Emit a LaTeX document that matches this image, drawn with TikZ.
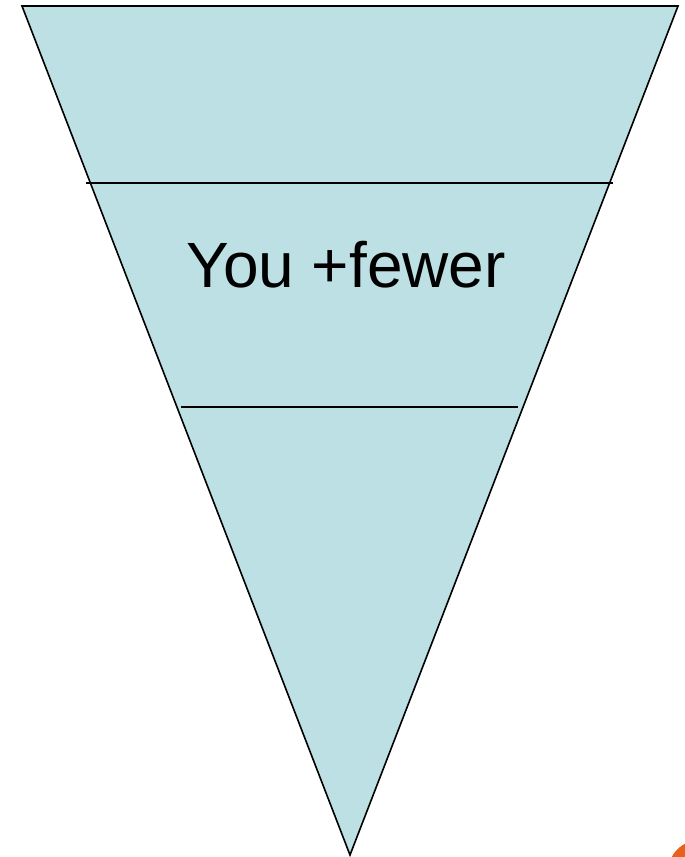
\documentclass[tikz,border=0pt]{standalone}
\usepackage{fontspec}
\setsansfont{Liberation Sans}
\usepackage{xcolor}
\usepackage{tikz}
\definecolor{imbuto}{HTML}{BCE0E4}
\definecolor{angolo}{HTML}{E8601C}

\begin{document}
\begin{tikzpicture}[x=1pt,y=-1pt]

\useasboundingbox (0,0) rectangle (685,857);

%========================
% Imbuto
%========================

% vertici
\coordinate (tl) at (22,6);
\coordinate (tr) at (678,6);
\coordinate (tip) at (350,855);

% triangolo
\filldraw[fill=imbuto,line width=1.6pt,line join=miter]
(tl) -- (tr) -- (tip) -- cycle;

%========================
% Fasce
%========================

% estremi delle linee
\coordinate (a1) at (86,183);
\coordinate (b1) at (613,183);
\coordinate (a2) at (181,407);
\coordinate (b2) at (518,407);

% linee orizzontali
\foreach \n in {1,2}
{
    \draw[line width=1.6pt] (a\n) -- (b\n);
}

% etichetta
\node[font=\sffamily\fontsize{64}{64}\selectfont] (you) at (346,265) {You +fewer};

%========================
% Angolo
%========================

\begin{scope}
\clip (0,0) rectangle (685,857);
\fill[angolo] (700,872) circle (32);
\end{scope}
\end{tikzpicture}
\end{document}
